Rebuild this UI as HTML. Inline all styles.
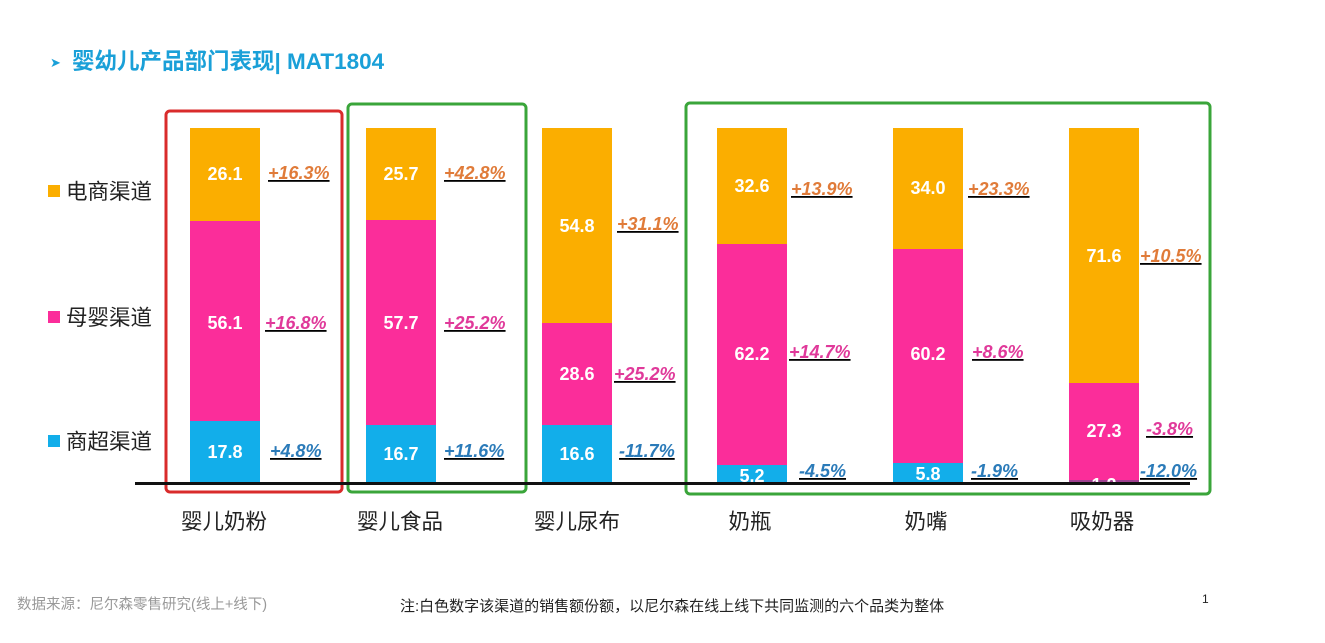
<!DOCTYPE html>
<html><head><meta charset="utf-8"><style>
body{margin:0;width:1325px;height:638px;background:#fff;overflow:hidden;font-family:"Liberation Sans","Noto Sans CJK SC",sans-serif;}
</style></head><body>
<svg width="1325" height="638" xmlns="http://www.w3.org/2000/svg" font-family="Liberation Sans, Noto Sans CJK SC, sans-serif">
<text x="50" y="67" font-size="13" fill="#1aa0d8">➤</text>
<text x="72" y="69" font-size="22.5" font-weight="bold" fill="#1aa0d8">婴幼儿产品部门表现| MAT1804</text>
<rect x="166" y="111" width="176" height="381" rx="4" fill="none" stroke="#d92b2b" stroke-width="3"/>
<rect x="348" y="104" width="178" height="388" rx="4" fill="none" stroke="#3aa53a" stroke-width="3"/>
<rect x="686" y="103" width="524" height="391" rx="4" fill="none" stroke="#3aa53a" stroke-width="3"/>
<g font-size="18" font-weight="bold" fill="#fff" text-anchor="middle">
<rect x="190" y="128" width="70" height="93" fill="#fbae00"/><rect x="190" y="221" width="70" height="200" fill="#fb2d9a"/><rect x="190" y="421" width="70" height="63" fill="#12aeea"/>
<text x="225" y="180">26.1</text><text x="225" y="329">56.1</text><text x="225" y="458">17.8</text>
<rect x="366" y="128" width="70" height="92" fill="#fbae00"/><rect x="366" y="220" width="70" height="205" fill="#fb2d9a"/><rect x="366" y="425" width="70" height="59" fill="#12aeea"/>
<text x="401" y="180">25.7</text><text x="401" y="329">57.7</text><text x="401" y="460">16.7</text>
<rect x="542" y="128" width="70" height="195" fill="#fbae00"/><rect x="542" y="323" width="70" height="102" fill="#fb2d9a"/><rect x="542" y="425" width="70" height="59" fill="#12aeea"/>
<text x="577" y="232">54.8</text><text x="577" y="380">28.6</text><text x="577" y="460">16.6</text>
<rect x="717" y="128" width="70" height="116" fill="#fbae00"/><rect x="717" y="244" width="70" height="221" fill="#fb2d9a"/><rect x="717" y="465" width="70" height="19" fill="#12aeea"/>
<text x="752" y="192">32.6</text><text x="752" y="360">62.2</text><text x="752" y="482">5.2</text>
<rect x="893" y="128" width="70" height="121" fill="#fbae00"/><rect x="893" y="249" width="70" height="214" fill="#fb2d9a"/><rect x="893" y="463" width="70" height="21" fill="#12aeea"/>
<text x="928" y="194">34.0</text><text x="928" y="360">60.2</text><text x="928" y="480">5.8</text>
<rect x="1069" y="128" width="70" height="255" fill="#fbae00"/><rect x="1069" y="383" width="70" height="97" fill="#fb2d9a"/><rect x="1069" y="480" width="70" height="4" fill="#a04090"/>
<text x="1104" y="262">71.6</text><text x="1104" y="437">27.3</text><text x="1104" y="491">1.2</text>
</g>
<rect x="135" y="482" width="1055" height="3" fill="#111"/>
<g font-size="18" font-weight="bold" font-style="italic" text-decoration="underline">
<text x="268" y="179" fill="#e07b39">+16.3%</text><text x="444" y="179" fill="#e07b39">+42.8%</text><text x="617" y="230" fill="#e07b39">+31.1%</text>
<text x="791" y="195" fill="#e07b39">+13.9%</text><text x="968" y="195" fill="#e07b39">+23.3%</text><text x="1140" y="262" fill="#e07b39">+10.5%</text>
<text x="265" y="329" fill="#e0399a">+16.8%</text><text x="444" y="329" fill="#e0399a">+25.2%</text><text x="614" y="380" fill="#e0399a">+25.2%</text>
<text x="789" y="358" fill="#e0399a">+14.7%</text><text x="972" y="358" fill="#e0399a">+8.6%</text><text x="1146" y="435" fill="#e0399a">-3.8%</text>
<text x="270" y="457" fill="#2b7bb9">+4.8%</text><text x="444" y="457" fill="#2b7bb9">+11.6%</text><text x="619" y="457" fill="#2b7bb9">-11.7%</text>
<text x="799" y="477" fill="#2b7bb9">-4.5%</text><text x="971" y="477" fill="#2b7bb9">-1.9%</text><text x="1140" y="477" fill="#2b7bb9">-12.0%</text>
</g>
<g font-size="21.5" fill="#222">
<rect x="48" y="185" width="12" height="12" fill="#fbae00"/><text x="66" y="199">电商渠道</text>
<rect x="48" y="311" width="12" height="12" fill="#fb2d9a"/><text x="66" y="325">母婴渠道</text>
<rect x="48" y="435" width="12" height="12" fill="#12aeea"/><text x="66" y="449">商超渠道</text>
</g>
<g font-size="21.5" fill="#222" text-anchor="middle">
<text x="224" y="529">婴儿奶粉</text><text x="400" y="529">婴儿食品</text><text x="577" y="529">婴儿尿布</text>
<text x="750" y="529">奶瓶</text><text x="926" y="529">奶嘴</text><text x="1102" y="529">吸奶器</text>
</g>
<text x="17" y="609" font-size="14.5" fill="#999">数据来源：尼尔森零售研究(线上+线下)</text>
<text x="400" y="611" font-size="15" fill="#222">注:白色数字该渠道的销售额份额，以尼尔森在线上线下共同监测的六个品类为整体</text>
<text x="1202" y="603" font-size="12" fill="#222">1</text>
</svg>
</body></html>
